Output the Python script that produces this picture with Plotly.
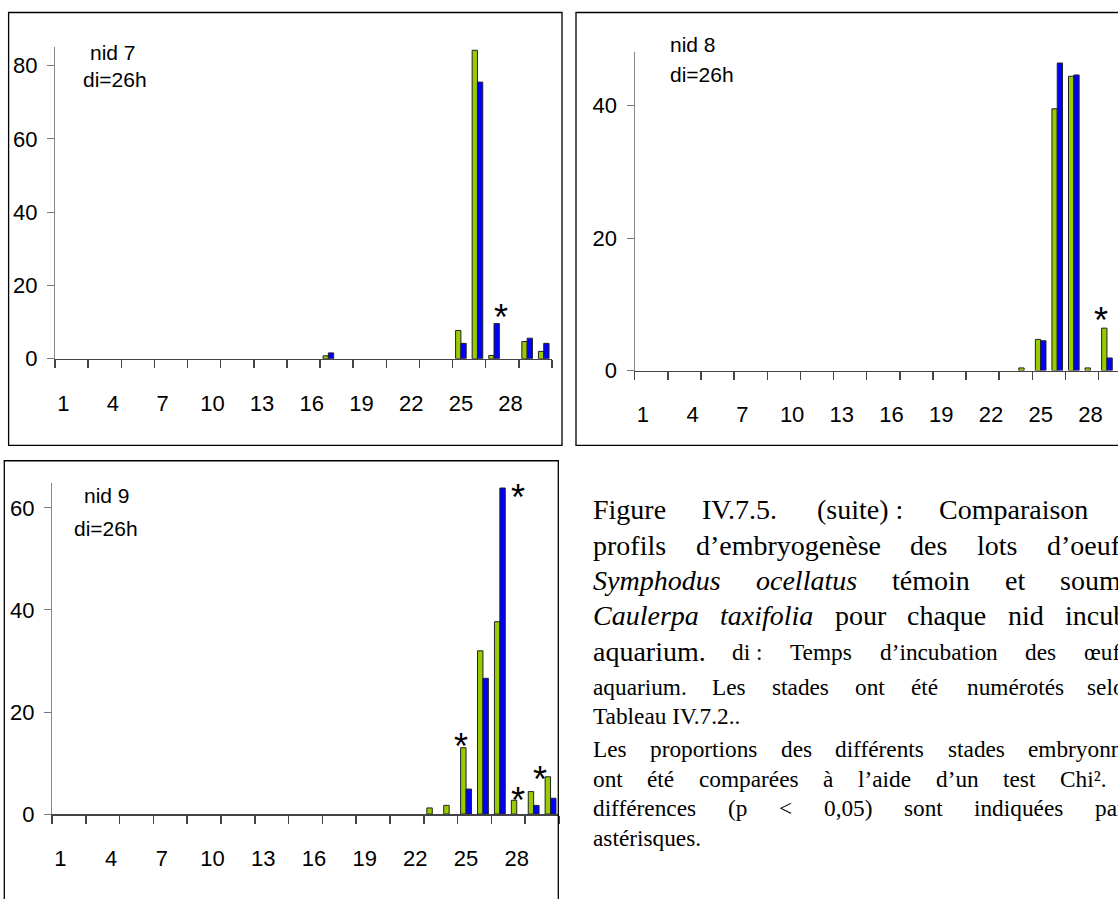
import plotly.graph_objects as go

# ---------------- data ----------------
stages = list(range(1, 31))
tick_labels = ["1", "4", "7", "10", "13", "16", "19", "22", "25", "28"]
tick_stages = [1, 4, 7, 10, 13, 16, 19, 22, 25, 28]

def series(d):
    return [d.get(s, 0) for s in stages]

nid7_temoin = series({17: 0.8, 25: 7.7, 26: 84.2, 27: 0.9, 29: 4.7, 30: 2.0})
nid7_caulerpa = series({17: 1.6, 25: 4.2, 26: 75.5, 27: 9.6, 29: 5.6, 30: 4.2})
nid8_temoin = series({24: 0.4, 25: 4.7, 26: 39.5, 27: 44.4, 28: 0.4, 29: 6.4})
nid8_caulerpa = series({25: 4.5, 26: 46.4, 27: 44.6, 29: 1.9})
nid9_temoin = series({23: 1.2, 24: 1.7, 25: 13.0, 26: 32.0, 27: 37.7, 28: 2.7, 29: 4.4, 30: 7.3})
nid9_caulerpa = series({25: 4.9, 26: 26.6, 27: 63.9, 29: 1.7, 30: 3.1})

# significance stars (stage position, height in data units)
stars7 = [(27.45, 13.4)]
stars8 = [(28.64, 8.8)]
stars9 = [(28.05, 63.6), (24.7, 14.8), (28.05, 4.2), (29.35, 8.3)]

W, H = 1118, 899
GREEN = "#99CC00"
BLUE = "#0000FF"
EDGE = "#222222"

def px(x):
    return x / W

def py(y):
    return 1 - y / H

def nz(vals):
    # empty classes are simply not drawn
    return [v if v else None for v in vals]

fig = go.Figure()

panels = [
    # (temoin, caulerpa, x0px, x1px, xrange_end, ybot, ytop, ymax, yticks)
    (nid7_temoin, nid7_caulerpa, 55, 552, 30.5, 364, 48, 85, [0, 20, 40, 60, 80]),
    (nid8_temoin, nid8_caulerpa, 634.7, W, 0.5 + (W - 634.7) / 16.57, 376, 376 - 48 * 6.725, 48, [0, 20, 40]),
    (nid9_temoin, nid9_caulerpa, 52, 559, 30.5, 826, 490, 64.9, [0, 20, 40, 60]),
]

for i, (t, c, x0, x1, xend, yb, yt, ymax, yticks) in enumerate(panels, start=1):
    xa = "x" if i == 1 else f"x{i}"
    ya = "y" if i == 1 else f"y{i}"
    fig.add_trace(go.Bar(x=stages, y=nz(t), xaxis=xa, yaxis=ya, name="témoin",
                         marker=dict(color=GREEN, line=dict(color=EDGE, width=1)),
                         showlegend=False))
    fig.add_trace(go.Bar(x=stages, y=nz(c), xaxis=xa, yaxis=ya, name="Caulerpa taxifolia",
                         marker=dict(color=BLUE, line=dict(color=EDGE, width=1)),
                         showlegend=False))
    xkey = "xaxis" if i == 1 else f"xaxis{i}"
    ykey = "yaxis" if i == 1 else f"yaxis{i}"
    fig.layout[xkey] = dict(
        domain=[px(x0), min(px(x1), 1.0)], range=[0.5, xend], anchor=ya,
        tickmode="array", tickvals=tick_stages, ticktext=tick_labels,
        ticks="", ticklabelstandoff=24, showgrid=False, zeroline=False,
        showline=True, linecolor="#444444", linewidth=1.5,
        tickfont=dict(family="Liberation Sans, Arial", size=22, color="black"),
        minor=dict(ticks="outside", tickmode="linear", tick0=0.5, dtick=2,
                   ticklen=8, tickwidth=1.5, tickcolor="#444444", showgrid=False),
        fixedrange=True,
    )
    fig.layout[ykey] = dict(
        domain=[py(yb), py(yt)], range=[0, ymax], anchor=xa,
        tickmode="array", tickvals=yticks, ticks="outside", ticklen=7,
        tickwidth=1, tickcolor="#777777", ticklabelstandoff=5,
        showgrid=False, zeroline=False, showline=True,
        linecolor="#888888", linewidth=1.2,
        tickfont=dict(family="Liberation Sans, Arial", size=22, color="black"),
        fixedrange=True,
    )

annotations = []
for i, stars in enumerate([stars7, stars8, stars9], start=1):
    xa = "x" if i == 1 else f"x{i}"
    ya = "y" if i == 1 else f"y{i}"
    for sx, sy in stars:
        annotations.append(dict(x=sx, y=sy, xref=xa, yref=ya, text="*", showarrow=False,
                                xanchor="center", yanchor="middle", yshift=-8,
                                font=dict(family="Liberation Sans, Arial", size=36, color="black")))

# panel labels
lab_font = dict(family="Liberation Sans, Arial", size=21, color="black")
for txt, cx, cy, anchor in [("nid 7", 113, 53, "center"), ("di=26h", 114.7, 81, "center"),
                            ("nid 8", 668, 45, "left"), ("di=26h", 668, 76, "left"),
                            ("nid 9", 107, 503, "center"), ("di=26h", 106, 536.7, "center")]:
    annotations.append(dict(x=px(cx), y=py(cy), xref="paper", yref="paper", text=txt,
                            showarrow=False, xanchor=anchor, yanchor="middle", font=lab_font))

# caption: justified paragraph, reproduced word by word (cut at the page edge)
BIG = dict(family="Liberation Serif, Times New Roman", size=28, color="black")
SMALL = dict(family="Liberation Serif, Times New Roman", size=23.3, color="black")
caption = [
    (517, BIG, [(591, "Figure"), (700, "IV.7.5."), (815, "(suite) :"), (937, "Comparaison")]),
    (553, BIG, [(591, "profils"), (694, "d’embryogenèse"), (908, "des"), (975, "lots"), (1045, "d’oeufs")]),
    (589, BIG, [(591, "<i>Symphodus</i>"), (754, "<i>ocellatus</i>"), (890, "témoin"), (1003, "et"), (1058, "soumis")]),
    (625, BIG, [(591, "<i>Caulerpa</i>"), (718, "<i>taxifolia</i>"), (833, "pour"), (905, "chaque"),
                (1006, "nid"), (1063, "incubé")]),
    (661, BIG, [(591, "aquarium.")]),
    (662, SMALL, [(730, "di :"), (788, "Temps"), (878, "d’incubation"), (1023, "des"), (1082, "œufs")]),
    (697, SMALL, [(591, "aquarium."), (710, "Les"), (770, "stades"), (853, "ont"), (909, "été"),
                  (965, "numérotés"), (1085, "selon")]),
    (727, SMALL, [(591, "Tableau IV.7.2..")]),
    (760, SMALL, [(591, "Les"), (648, "proportions"), (779, "des"), (833, "différents"), (946, "stades"),
                  (1026, "embryonnaires")]),
    (790, SMALL, [(591, "ont"), (645, "été"), (697, "comparées"), (821, "à"), (856, "l’aide"), (934, "d’un"),
                  (1001, "test"), (1058, "Chi².")]),
    (820, SMALL, [(591, "différences"), (726, "(p"), (777, "<"), (822, "0,05)"), (902, "sont"),
                  (972, "indiquées"), (1093, "par")]),
    (850, SMALL, [(591, "astérisques.")]),
]
for ycen, fnt, words in caption:
    for xl, w in words:
        annotations.append(dict(x=px(xl), y=py(ycen), xref="paper", yref="paper", text=w,
                                showarrow=False, xanchor="left", yanchor="middle", font=fnt))

# chart frames (the right frame and the bottom frame run past the page edge)
shapes = [
    dict(type="rect", xref="paper", yref="paper", x0=px(8.6), x1=px(562), y0=py(452), y1=py(12.7),
         line=dict(color="black", width=1.3)),
    dict(type="rect", xref="paper", yref="paper", x0=px(576), x1=px(1160), y0=py(452), y1=py(12.7),
         line=dict(color="black", width=1.3)),
    dict(type="rect", xref="paper", yref="paper", x0=px(4.3), x1=px(558.3), y0=py(960), y1=py(467.5),
         line=dict(color="black", width=1.3)),
]

fig.update_layout(
    width=W, height=H, margin=dict(l=0, r=0, t=0, b=0),
    paper_bgcolor="white", plot_bgcolor="white",
    barmode="group", bargap=0.36, bargroupgap=0,
    annotations=annotations, shapes=shapes, showlegend=False,
)

# the page's default 8px body margin would shift the figure; remove it
fig.write_html("out.html",
               config={"displayModeBar": False, "staticPlot": True},
               post_script="document.body.style.margin='0px';document.body.style.overflow='hidden';")
